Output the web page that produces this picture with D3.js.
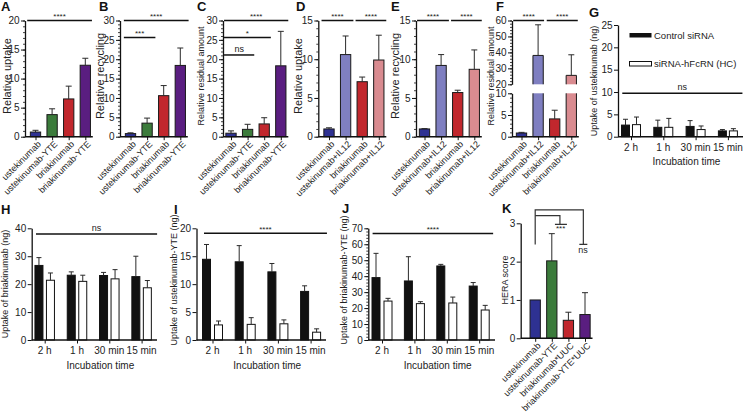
<!DOCTYPE html>
<html><head><meta charset="utf-8">
<script src="https://cdn.jsdelivr.net/npm/d3@7"></script>
<style>
body{margin:0;background:#fff}
svg{font-family:"Liberation Sans",Arial,sans-serif}
</style></head><body>
<svg id="fig" width="748" height="415"></svg>
<script>
// categories
var catsYTE = ['ustekinumab', 'ustekinumab-YTE', 'briakinumab', 'briakinumab-YTE']
var catsIL = ['ustekinumab', 'ustekinumab+IL12', 'briakinumab', 'briakinumab+IL12']
var catsK = ['ustekinumab', 'ustekinumab-YTE', 'briakinumab*UUC', 'briakinumab-YTE*UUC']
var times = ['2 h', '1 h', '30 min', '15 min']

// values (mean) and error (SD, upward only)
var uptakeA = [0.8, 3.8, 6.5, 12.3], uptakeAErr = [0.3, 1.0, 2.2, 1.2]
var recycB = [0.8, 3.5, 10.6, 18.4], recycBErr = [0.2, 1.3, 2.6, 4.5]
var residC = [0.9, 1.9, 3.3, 18.3], residCErr = [0.6, 1.3, 1.6, 8.9]
var uptakeD = [1.0, 10.6, 7.1, 9.9], uptakeDErr = [0.15, 2.4, 0.6, 3.2]
var recycE = [1.0, 9.2, 5.7, 8.7], recycEErr = [0.05, 1.4, 0.3, 2.5]
var residF = [0.85, 38.1, 4.1, 25.6], residFErr = [0.15, 19.2, 2.0, 12.9]
var ctrlG = [2.6, 2.1, 2.3, 1.3], ctrlGErr = [1.3, 1.6, 1.3, 0.3]
var kdG = [2.7, 2.1, 1.6, 1.3], kdGErr = [1.7, 2.0, 0.8, 0.5]
var ctrlH = [26.7, 23.2, 23.1, 22.7], ctrlHErr = [2.8, 1.2, 1.1, 7.3]
var kdH = [21.4, 21.0, 21.9, 18.7], kdHErr = [2.6, 2.2, 3.3, 2.6]
var ctrlI = [14.45, 14.0, 12.2, 8.7], ctrlIErr = [2.65, 2.9, 1.5, 1.0]
var kdI = [2.7, 2.8, 2.9, 1.4], kdIErr = [0.7, 1.2, 0.7, 0.6]
var ctrlJ = [39.1, 37.0, 46.4, 33.8], ctrlJErr = [15.2, 15.2, 1.0, 2.2]
var kdJ = [24.4, 22.8, 23.2, 18.8], kdJErr = [1.7, 1.2, 3.7, 2.9]
var heraK = [1.0, 2.02, 0.47, 0.62], heraKErr = [0, 0.71, 0.21, 0.57]

var blue = '#2e3192', green = '#3b7b3b', red = '#c1272d', purple = '#5a1e80'
var lilac = '#7f7fc1', pink = '#d98b90'
var svg = d3.select('#fig')

function styleAxis(g) {
    g.select('.domain').attr('stroke', '#111').attr('stroke-width', 1.3)
    g.selectAll('.tick line').attr('stroke', '#111').attr('stroke-width', 1)
    g.selectAll('.tick text').attr('font-size', 10).attr('fill', '#222')
}

function yAxis(y, x0, major, minor) {
    var g = svg.append('g').attr('transform', 'translate(' + x0 + ',0)')
        .call(d3.axisLeft(y).tickValues(major).tickFormat(function (d) { return d })
            .tickSize(4).tickSizeOuter(0).tickPadding(1.5))
    styleAxis(g)
    if (minor) {
        var m = svg.append('g').attr('transform', 'translate(' + x0 + ',0)')
            .call(d3.axisLeft(y).tickValues(minor).tickSize(2).tickFormat(''))
        m.select('.domain').remove()
        m.selectAll('.tick line').attr('stroke', '#111').attr('stroke-width', 0.8)
    }
}

function xAxis(x, x0, xEnd, bot) {
    svg.append('line').attr('x1', x0).attr('x2', xEnd).attr('y1', bot).attr('y2', bot)
        .attr('stroke', '#111').attr('stroke-width', 1.5)
    var g = svg.append('g').attr('transform', 'translate(0,' + bot + ')')
        .call(d3.axisBottom(x).tickSize(3.5).tickFormat(''))
    g.select('.domain').remove()
    g.selectAll('.tick line').attr('stroke', '#111').attr('stroke-width', 1)
}

function errBars(cx, y, vals, errs, cap) {
    vals.forEach(function (v, i) {
        if (!errs[i]) return
        var c = cx(i)
        svg.append('line').attr('x1', c).attr('x2', c).attr('y1', y(v)).attr('y2', y(v + errs[i]))
            .attr('stroke', '#2a2a2a').attr('stroke-width', 1)
        svg.append('line').attr('x1', c - cap / 2).attr('x2', c + cap / 2)
            .attr('y1', y(v + errs[i])).attr('y2', y(v + errs[i]))
            .attr('stroke', '#2a2a2a').attr('stroke-width', 1)
    })
}

function sigLines(xi, y, sig) {
    sig.forEach(function (s) {
        svg.append('line').attr('x1', xi(s[0])).attr('x2', xi(s[1]))
            .attr('y1', y(s[2])).attr('y2', y(s[2])).attr('stroke', '#111').attr('stroke-width', 1.5)
        svg.append('text').attr('x', (xi(s[0]) + xi(s[1])) / 2)
            .attr('y', y(s[2]) - (s[3] == 'ns' ? 3 : 1.5))
            .attr('text-anchor', 'middle').attr('font-size', s[3] == 'ns' ? 9 : 8).attr('fill', '#222')
            .text(s[3])
    })
}

function yTitle(txt, x, yc, size) {
    svg.append('text').attr('transform', 'translate(' + x + ',' + yc + ') rotate(-90)')
        .attr('text-anchor', 'middle').attr('font-size', size).attr('fill', '#222').text(txt)
}

function letter(t, x, y) {
    svg.append('text').attr('x', x).attr('y', y).attr('font-size', 13).attr('font-weight', 'bold')
        .attr('fill', '#111').text(t)
}

function catLabels(x, cats, bot) {
    svg.append('g').selectAll('text').data(cats).enter().append('text')
        .attr('transform', function (d) { return 'translate(' + (x(d) + 6) + ',' + (bot + 8) + ') rotate(-45)' })
        .attr('text-anchor', 'end').attr('font-size', 9).attr('fill', '#222').text(function (d) { return d })
}

function catPanel(p) {
    var bw = 10.3
    var x = d3.scalePoint().domain(p.cats).range([p.c0, p.c0 + 16.6 * (p.cats.length - 1)])
    var y = d3.scaleLinear().domain(p.dom).range([p.bot, p.top])
    var xi = function (i) { return x.range()[0] + i * x.step() }
    svg.append('g').selectAll('rect').data(p.vals).enter().append('rect')
        .attr('x', function (d, i) { return x(p.cats[i]) - bw / 2 })
        .attr('y', function (d) { return y(d) })
        .attr('width', bw)
        .attr('height', function (d) { return y(0) - y(d) })
        .attr('fill', function (d, i) { return p.colors[i] })
        .attr('stroke', '#1a1a1a').attr('stroke-width', 1)
    errBars(xi, y, p.vals, p.errs, 6)
    yAxis(y, p.x0, p.major, p.minor)
    xAxis(x, p.x0, xi(3) + 7.5, p.bot)
    catLabels(x, p.cats, p.bot)
    if (p.sig) sigLines(xi, y, p.sig)
    return { x: x, y: y, xi: xi }
}

function groupPanel(p) {
    var bw = p.bw, off = p.bw / 2 + p.gap / 2
    var x = d3.scalePoint().domain(times).range([p.c0, p.c0 + p.step * 3])
    var y = d3.scaleLinear().domain(p.dom).range([p.bot, p.top])
    var xi = function (i) { return x.range()[0] + i * x.step() }
    var series = [
        { vals: p.ctrl, errs: p.ctrlErr, fill: '#111', dx: -off },
        { vals: p.kd, errs: p.kdErr, fill: '#fff', dx: off }
    ]
    series.forEach(function (s) {
        svg.append('g').selectAll('rect').data(s.vals).enter().append('rect')
            .attr('x', function (d, i) { return x(times[i]) + s.dx - bw / 2 })
            .attr('y', function (d) { return y(d) })
            .attr('width', bw)
            .attr('height', function (d) { return y(0) - y(d) })
            .attr('fill', s.fill).attr('stroke', '#111').attr('stroke-width', 1)
        errBars(function (i) { return x(times[i]) + s.dx }, y, s.vals, s.errs, 5)
    })
    yAxis(y, p.x0, p.major, p.minor)
    xAxis(x, p.x0, p.xEnd, p.bot)
    svg.append('g').selectAll('text').data(times).enter().append('text')
        .attr('x', function (d) { return x(d) }).attr('y', p.bot + 14)
        .attr('text-anchor', 'middle').attr('font-size', 10).attr('fill', '#222').text(function (d) { return d })
    svg.append('text').attr('x', (p.x0 + p.xEnd) / 2 + 6).attr('y', p.bot + 28.5)
        .attr('text-anchor', 'middle').attr('font-size', 10).attr('fill', '#222').text('Incubation time')
    sigLines(xi, y, p.sig)
}

var r5 = function (a, b) { return d3.range(a, b + 0.01, 5) }
var r1 = function (a, b) { return d3.range(a, b + 0.01, 1) }

// A
catPanel({ cats: catsYTE, vals: uptakeA, errs: uptakeAErr, colors: [blue, green, red, purple],
    c0: 35.5, x0: 25, bot: 136.7, top: 20.5, dom: [0, 20], major: r5(0, 20), minor: r1(0, 20),
    sig: [[-0.5, 3.4, 20, '****']] })
yTitle('Relative uptake', 10.5, 76, 11)
letter('A', 1, 11)

// B
catPanel({ cats: catsYTE, vals: recycB, errs: recycBErr, colors: [blue, green, red, purple],
    c0: 130.5, x0: 120, bot: 136.7, top: 20.5, dom: [0, 30], major: r5(0, 30), minor: r1(0, 30),
    sig: [[-0.4, 3.5, 30, '****'], [-0.4, 1.5, 25.6, '***']] })
yTitle('Relative recycling', 104, 76, 11)
letter('B', 99, 11)

// C
catPanel({ cats: catsYTE, vals: residC, errs: residCErr, colors: [blue, green, red, purple],
    c0: 231, x0: 223, bot: 136.7, top: 20.5, dom: [0, 30], major: r5(0, 30), minor: r1(0, 30),
    sig: [[-0.42, 3.45, 30, '****'], [-0.42, 2.4, 25.6, '*'], [-0.42, 1.4, 21.1, 'ns']] })
yTitle('Relative residual amount', 203.5, 76, 9)
letter('C', 197, 11)

// D
catPanel({ cats: catsIL, vals: uptakeD, errs: uptakeDErr, colors: [blue, lilac, red, pink],
    c0: 329, x0: 318.3, bot: 136.7, top: 20.5, dom: [0, 15], major: r5(0, 15), minor: r1(0, 15),
    sig: [[-0.45, 1.47, 15, '****'], [1.6, 3.45, 15, '****']] })
yTitle('Relative uptake', 302, 76, 11)
letter('D', 296, 11)

// E
catPanel({ cats: catsIL, vals: recycE, errs: recycEErr, colors: [blue, lilac, red, pink],
    c0: 424.5, x0: 416, bot: 136.7, top: 20.5, dom: [0, 15], major: r5(0, 15), minor: r1(0, 15),
    sig: [[-0.45, 1.47, 15, '****'], [1.6, 3.45, 15, '****']] })
yTitle('Relative recycling', 399, 76, 11)
letter('E', 391, 11)

// F (broken axis)
;(function () {
    var bw = 10.3, colors = [blue, lilac, red, pink]
    var x = d3.scalePoint().domain(catsIL).range([521.5, 521.5 + 16.6 * 3])
    var xi = function (i) { return x.range()[0] + i * x.step() }
    var yLo = d3.scaleLinear().domain([0, 10]).range([136.7, 93.3])
    var yHi = d3.scaleLinear().domain([20, 60]).range([84.3, 20.5])
    svg.append('g').selectAll('rect').data(residF).enter().append('rect')
        .attr('x', function (d, i) { return x(catsIL[i]) - bw / 2 })
        .attr('y', function (d) { return yLo(Math.min(d, 10)) })
        .attr('width', bw)
        .attr('height', function (d) { return yLo(0) - yLo(Math.min(d, 10)) })
        .attr('fill', function (d, i) { return colors[i] })
        .attr('stroke', function (d) { return d > 10 ? 'none' : '#1a1a1a' })
    var hi = residF.map(function (d, i) { return { v: d, i: i } }).filter(function (d) { return d.v > 20 })
    svg.append('g').selectAll('rect').data(hi).enter().append('rect')
        .attr('x', function (d) { return x(catsIL[d.i]) - bw / 2 })
        .attr('y', function (d) { return yHi(d.v) })
        .attr('width', bw)
        .attr('height', function (d) { return yHi(20) - yHi(d.v) })
        .attr('fill', function (d) { return colors[d.i] }).attr('stroke', 'none')
    // outlines for broken bars: sides and top only
    hi.forEach(function (d) {
        var l = x(catsIL[d.i]) - bw / 2, r = l + bw
        svg.append('path').attr('d', 'M' + l + ',' + yHi(20) + 'V' + yHi(d.v) + 'H' + r + 'V' + yHi(20))
            .attr('fill', 'none').attr('stroke', '#1a1a1a')
        svg.append('path').attr('d', 'M' + l + ',' + yLo(10) + 'V' + yLo(0) + 'H' + r + 'V' + yLo(10))
            .attr('fill', 'none').attr('stroke', '#1a1a1a')
    })
    errBars(xi, yLo, [residF[0], 0, residF[2], 0], [residFErr[0], 0, residFErr[2], 0], 6)
    errBars(xi, yHi, [0, residF[1], 0, residF[3]], [0, residFErr[1], 0, residFErr[3]], 6)
    yAxis(yLo, 512, [0, 5, 10], r1(0, 10))
    yAxis(yHi, 512, [20, 30, 40, 50, 60], d3.range(20, 61, 2))
    xAxis(x, 512, xi(3) + 7.5, 136.7)
    catLabels(x, catsIL, 136.7)
    sigLines(xi, yHi, [[-0.5, 1.36, 60, '****'], [1.52, 3.39, 60, '****']])
    yTitle('Relative residual amount', 494, 76, 9)
    letter('F', 496, 11)
})()

// G
groupPanel({ ctrl: ctrlG, ctrlErr: ctrlGErr, kd: kdG, kdErr: kdGErr, bw: 8, gap: 3,
    c0: 631, step: 32.3, x0: 618, xEnd: 743, bot: 136.7, top: 25, dom: [0, 25], major: r5(0, 25),
    sig: [[-0.27, 3.45, 9.7, 'ns']] })
yTitle('Uptake of ustekinumab (ng)', 597, 81, 9)
letter('G', 589, 17)
// legend
svg.append('rect').attr('x', 629.5).attr('y', 33).attr('width', 22).attr('height', 4.5).attr('fill', '#111')
svg.append('text').attr('x', 654).attr('y', 38.5).attr('font-size', 9.5).attr('fill', '#222').text('Control siRNA')
svg.append('rect').attr('x', 629.5).attr('y', 61.5).attr('width', 22).attr('height', 4.5)
    .attr('fill', '#fff').attr('stroke', '#111')
svg.append('text').attr('x', 654).attr('y', 67).attr('font-size', 9.5).attr('fill', '#222').text('siRNA-hFcRN (HC)')

// H
groupPanel({ ctrl: ctrlH, ctrlErr: ctrlHErr, kd: kdH, kdErr: kdHErr, bw: 8, gap: 3.5,
    c0: 44.7, step: 32.3, x0: 31.7, xEnd: 157, bot: 340, top: 228.3, dom: [0, 40], major: d3.range(0, 41, 10),
    sig: [[-0.27, 3.48, 38, 'ns']] })
yTitle('Uptake of briakinumab (ng)', 7.5, 284, 9)
letter('H', 1, 214)

// I
groupPanel({ ctrl: ctrlI, ctrlErr: ctrlIErr, kd: kdI, kdErr: kdIErr, bw: 8, gap: 4,
    c0: 212.5, step: 32.7, x0: 196.5, xEnd: 326, bot: 340, top: 228.3, dom: [0, 20], major: r5(0, 20),
    sig: [[-0.26, 3.5, 19.1, '****']] })
yTitle('Uptake of ustekinumab-YTE (ng)', 177, 280, 9)
letter('I', 174, 214)

// J
groupPanel({ ctrl: ctrlJ, ctrlErr: ctrlJErr, kd: kdJ, kdErr: kdJErr, bw: 8, gap: 4,
    c0: 382, step: 32.4, x0: 368.3, xEnd: 495, bot: 340, top: 228.3, dom: [0, 70], major: d3.range(0, 71, 10),
    minor: d3.range(0, 71, 2), sig: [[-0.29, 3.43, 66.8, '****']] })
yTitle('Uptake of briakinumab-YTE (ng)', 347, 280, 9)
letter('J', 342, 213)

// K
;(function () {
    var k = catPanel({ cats: catsK, vals: heraK, errs: heraKErr, colors: [blue, green, red, purple],
        c0: 535.2, x0: 520.7, bot: 338.3, top: 223.3, dom: [0, 3], major: [0, 1, 2, 3] })
    var xi = k.xi, y = k.y
    var st = function (sel) { return sel.attr('stroke', '#333').attr('stroke-width', 1.2).attr('fill', 'none') }
    st(svg.append('path').attr('d', 'M' + xi(0) + ',' + y(2.45) + 'V' + y(3.35) + 'H' + xi(2.9) + 'V' + y(2.45)
        + 'M' + (xi(2.9) - 4) + ',' + y(2.45) + 'H' + (xi(2.9) + 4)))
    st(svg.append('path').attr('d', 'M' + xi(0) + ',' + y(3.2) + 'H' + xi(1.49) + 'V' + y(2.97)
        + 'M' + (xi(1.49) - 5) + ',' + y(2.97) + 'H' + (xi(1.49) + 7)))
    svg.append('text').attr('x', xi(1.53)).attr('y', y(2.8)).attr('text-anchor', 'middle')
        .attr('font-size', 8).attr('fill', '#222').text('***')
    svg.append('text').attr('x', xi(2.88)).attr('y', y(2.22)).attr('text-anchor', 'middle')
        .attr('font-size', 9).attr('fill', '#222').text('ns')
    yTitle('HERA score', 508, 280, 9)
    letter('K', 502, 213)
})()
</script></body></html>
